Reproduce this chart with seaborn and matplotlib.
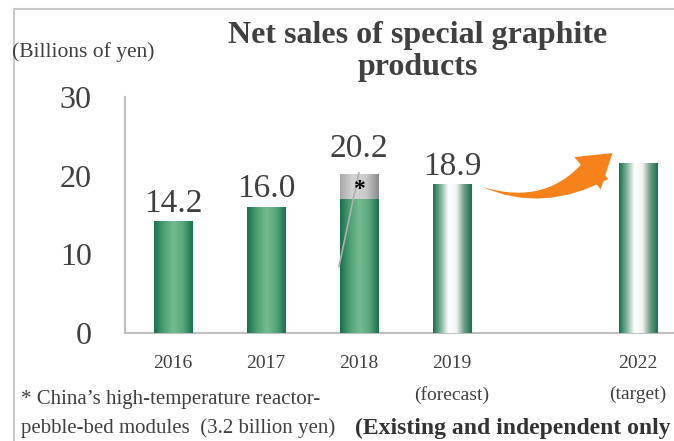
"""
Net sales of special graphite products (bar chart with gradient fill).
Saves out.png
"""

import numpy as np
import matplotlib.pyplot as plt
import matplotlib.colors as mcolors
from matplotlib.patches import FancyArrowPatch, Rectangle
import seaborn as sns

# =========================
# DATA
# =========================
years = ["2016", "2017", "2018", "2019", " ", "2022"]
sub_labels = ["", "", "", "(forecast)", "", "(target)"]
base_sales = [14.2, 16.0, 17.0, 18.9, np.nan, 21.6]
reactor_sales = [0.0, 0.0, 3.2, 0.0, np.nan, 0.0]
value_labels = ["14.2", "16.0", "20.2", "18.9", "", ""]
bar_kind = ["actual", "actual", "actual", "plan", "none", "plan"]

total_sales = [b + r for b, r in zip(base_sales, reactor_sales)]

# =========================
# SETTINGS
# =========================
sns.set_theme(style="white")
plt.rcParams["font.family"] = ["Liberation Serif", "DejaVu Serif"]
TEXT = "#404040"
AXIS = "#c0c0c0"
ORANGE = "#f7821b"

green_cmap = mcolors.LinearSegmentedColormap.from_list(
    "green", ["#17704c", "#4f9f74", "#74bb90", "#5aa67c", "#17704c"])
plan_cmap = mcolors.LinearSegmentedColormap.from_list(
    "plan", ["#17704c", "#7fb39a", "#ffffff", "#f2f5f3", "#6f9d86", "#17704c"])
gray_cmap = mcolors.LinearSegmentedColormap.from_list(
    "gray", ["#a8a8a8", "#d4d4d4", "#cacaca", "#8a8a8a"])


def fill_gradient(ax, patch, cmap):
    """Paint a horizontal gradient inside a bar patch."""
    x0, y0 = patch.get_x(), patch.get_y()
    w, h = patch.get_width(), patch.get_height()
    if not np.isfinite(h) or h == 0:
        return
    grad = np.linspace(0, 1, 256).reshape(1, -1)
    im = ax.imshow(grad, cmap=cmap, aspect="auto", extent=[x0, x0 + w, y0, y0 + h],
                   zorder=patch.get_zorder(), interpolation="bicubic")
    im.set_clip_path(patch)
    patch.set_facecolor("none")


def patches_by_pos(patches):
    return {int(round(p.get_x() + p.get_width() / 2)): p for p in patches}


# =========================
# PLOT
# =========================
fig = plt.figure(figsize=(6.74, 4.41), dpi=100)
ax = fig.add_axes([0.1855, 0.2449, 0.8145, 0.535])

# stacked: totals first (gray part), then the base on top
sns.barplot(x=years, y=total_sales, order=years, width=0.41, ax=ax,
            color="#aaaaaa", linewidth=0, zorder=2)
n_tot = len(ax.patches)
sns.barplot(x=years, y=base_sales, order=years, width=0.41, ax=ax,
            color="#2e8b57", linewidth=0, zorder=3)

tot_patches = patches_by_pos(ax.patches[:n_tot])
base_patches = patches_by_pos(ax.patches[n_tot:])
for i, kind in enumerate(bar_kind):
    if kind == "none":
        continue
    if reactor_sales[i] > 0:
        fill_gradient(ax, tot_patches[i], gray_cmap)
    else:
        tot_patches[i].set_visible(False)
    fill_gradient(ax, base_patches[i], green_cmap if kind == "actual" else plan_cmap)

ax.set_xlim(-0.516, 5.39)
ax.set_ylim(0, 30)
ax.set_yticks([0, 10, 20, 30])
ax.tick_params(axis="y", labelsize=23, labelcolor=TEXT, length=0, pad=24)
ax.tick_params(axis="x", labelsize=14, labelcolor=TEXT, length=0, pad=16)
ax.set_xticks(range(len(years)))
ax.set_xticklabels(years)

for side in ["top", "right"]:
    ax.spines[side].set_visible(False)
for side in ["left", "bottom"]:
    ax.spines[side].set_color(AXIS)
    ax.spines[side].set_linewidth(1.5)

# value labels
for i, lab in enumerate(value_labels):
    if not lab:
        continue
    top = total_sales[i]
    off = 1.3 if reactor_sales[i] > 0 else 0.35
    ax.text(i, top + off, lab, ha="center", va="bottom", fontsize=24, color=TEXT)

# note on the 2018 bar
i18 = years.index("2018")
ax.plot([i18, i18 - 0.215], [total_sales[i18] + 0.2, 8.4], color="#b0b0b0", lw=1.2, zorder=5)
ax.text(i18, base_sales[i18] + 1.3, "*", ha="center", va="center", fontsize=17,
        fontweight="bold", color="black", zorder=6)

# (forecast) / (target)
for i, lab in enumerate(sub_labels):
    if lab:
        ax.text(i, -0.262, lab, transform=ax.get_xaxis_transform(), ha="center",
                va="center", fontsize=14, color=TEXT)

# orange growth arrow: tapered body + head
body = FancyArrowPatch((4.6, 21.3), (3.3, 18.7), connectionstyle="arc3,rad=-0.3",
                       arrowstyle="wedge,tail_width=1.1,shrink_factor=0.3",
                       mutation_scale=20, color=ORANGE, lw=0, zorder=4)
ax.add_patch(body)
head = FancyArrowPatch((4.5, 20.7), (4.75, 23.1),
                       arrowstyle="-|>,head_width=0.75,head_length=1.15",
                       mutation_scale=20, color=ORANGE, lw=0.01, zorder=4)
ax.add_patch(head)

# =========================
# TEXTS
# =========================
fig.text(0.6195, 0.9025, "Net sales of special graphite", ha="center", va="baseline",
         fontsize=23, fontweight="bold", color=TEXT)
fig.text(0.6195, 0.830, "products", ha="center", va="baseline",
         fontsize=23, fontweight="bold", color=TEXT)
fig.text(0.018, 0.882, "(Billions of yen)", ha="left", va="center", fontsize=15.5, color=TEXT)
fig.text(0.031, 0.093, "* China\u2019s high-temperature reactor-", ha="left", va="center",
         fontsize=15, color=TEXT)
fig.text(0.031, 0.029, "pebble-bed modules  (3.2 billion yen)", ha="left", va="center",
         fontsize=15, color=TEXT)
fig.text(0.527, 0.029, "(Existing and independent only", ha="left", va="center",
         fontsize=17, fontweight="bold", color="#333333")

# slide frame
fig.patches.append(Rectangle((0.021, -0.1), 1.1, 1.08, transform=fig.transFigure,
                             fill=False, edgecolor="#c8c8c8", lw=1.5))

fig.savefig("out.png", dpi=100)
plt.close(fig)
